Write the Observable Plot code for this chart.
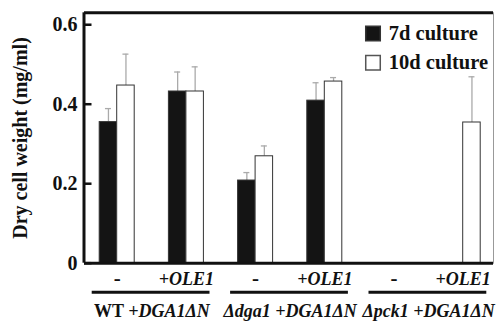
<!DOCTYPE html>
<html><head><meta charset="utf-8">
<script src="https://cdn.jsdelivr.net/npm/d3@7"></script>
<script src="https://cdn.jsdelivr.net/npm/@observablehq/plot@0.6"></script>
<style>body{margin:0;background:#fff}</style>
</head><body><div id="chart"></div>
<script>
const groups = ["WT-", "WT+OLE1", "dga1-", "dga1+OLE1", "pck1-", "pck1+OLE1"];
const treatments = ["-", "+OLE1", "-", "+OLE1", "-", "+OLE1"];
const strainNames = ["WT", "Δdga1", "Δpck1"];
const strainAdd = ["+DGA1ΔN", "+DGA1ΔN", "+DGA1ΔN"];
const strainItalic = [false, true, true];
const series = ["7d culture", "10d culture"];
const mean7 = [0.355, 0.432, 0.208, 0.409, null, null];
const err7 = [0.034, 0.049, 0.020, 0.045, null, null];
const mean10 = [0.447, 0.432, 0.269, 0.457, null, 0.354];
const err10 = [0.079, 0.062, 0.026, 0.010, null, 0.115];
const yTicks = [0, 0.2, 0.4, 0.6];
const yLabel = "Dry cell weight (mg/ml)";

const W = 496, H = 321, ML = 84, MR = 3, MT = 12.3, MB = 58.3;
const X_RANGE = [82.1, 497.3];
const STEP = (X_RANGE[1] - X_RANGE[0]) / groups.length;
const HALF = STEP / 2, BAR = 17.5, CAP = 3;
const LEFT_OFF = ML - X_RANGE[0];

const rows = [];
groups.forEach((g, i) => {
  if (mean7[i] != null) rows.push({group: g, s: 0, mean: mean7[i], err: err7[i]});
  if (mean10[i] != null) rows.push({group: g, s: 1, mean: mean10[i], err: err10[i]});
});
const r7 = rows.filter(d => d.s === 0), r10 = rows.filter(d => d.s === 1);
const pairs = strainNames.map((n, k) => ({first: groups[2*k], second: groups[2*k+1], name: n, add: strainAdd[k], italic: strainItalic[k]}));
const labels = groups.map((g, i) => ({group: g, t: treatments[i]}));
const dashLabels = labels.filter(d => d.t === "-");
const oleLabels = labels.filter(d => d.t !== "-");

const font = {fontFamily: "Liberation Serif", fontWeight: "bold"};
const ERR = {stroke: "#aaa", strokeWidth: 1.3};

const chart = Plot.plot({
  width: W, height: H,
  marginLeft: ML, marginRight: MR, marginTop: MT, marginBottom: MB,
  style: {fontFamily: "Liberation Serif", fontWeight: "bold", background: "#fff", overflow: "visible"},
  x: {domain: groups, range: X_RANGE, padding: 0, round: false, axis: null},
  y: {domain: [0, 0.63]},
  marks: [
    Plot.frame({stroke: "#999", strokeWidth: 1}),
    // error bars
    Plot.ruleX(r7, {x: "group", y1: "mean", y2: d => d.mean + d.err, dx: -BAR/2, ...ERR}),
    Plot.ruleX(r10, {x: "group", y1: "mean", y2: d => d.mean + d.err, dx: BAR/2, ...ERR}),
    Plot.tickY(r7, {x: "group", y: d => d.mean + d.err, insetLeft: HALF - BAR/2 - CAP, insetRight: HALF + BAR/2 - CAP, ...ERR}),
    Plot.tickY(r10, {x: "group", y: d => d.mean + d.err, insetLeft: HALF + BAR/2 - CAP, insetRight: HALF - BAR/2 - CAP, ...ERR}),
    // bars
    Plot.barY(r7, {x: "group", y: "mean", insetLeft: HALF - BAR, insetRight: HALF, fill: "#141414", stroke: "#333", strokeWidth: 1}),
    Plot.barY(r10, {x: "group", y: "mean", insetLeft: HALF, insetRight: HALF - BAR, fill: "#fff", stroke: "#333", strokeWidth: 1}),
    // axes/frame
    Plot.ruleY([0], {strokeWidth: 3, stroke: "#111"}),
    Plot.ruleY([0.63], {strokeWidth: 3, stroke: "#111"}),
    Plot.ruleX([groups[0]], {x: d => d, dx: LEFT_OFF - HALF - 0.5, strokeWidth: 3, stroke: "#111"}),
    Plot.tickY(yTicks, {x: () => groups[0], y: d => d, insetLeft: LEFT_OFF, insetRight: STEP - LEFT_OFF - 7.5, strokeWidth: 2.5, stroke: "#111"}),
    Plot.axisY(yTicks, {tickSize: 0, tickPadding: 7, label: null, tickFormat: d => String(d), fontSize: 20, fill: "#111", ...font}),
    Plot.text([yLabel], {frameAnchor: "left", textAnchor: "middle", rotate: -90, dx: -64, fontSize: 20, fill: "#111", ...font}),
    // legend
    Plot.dot([series[0]], {frameAnchor: "top-right", dx: -120.5, dy: 20.7, symbol: "square", r: 8.2, fill: "#141414", stroke: "#333"}),
    Plot.dot([series[1]], {frameAnchor: "top-right", dx: -120.5, dy: 49.9, symbol: "square", r: 8.2, fill: "#fff", stroke: "#555"}),
    Plot.text([series[0]], {frameAnchor: "top-right", dx: -104.7, dy: 27, textAnchor: "start", lineAnchor: "bottom", fontSize: 20.5, fill: "#111", ...font}),
    Plot.text([series[1]], {frameAnchor: "top-right", dx: -104.7, dy: 56, textAnchor: "start", lineAnchor: "bottom", fontSize: 20.5, fill: "#111", ...font}),
    // category labels
    Plot.text(dashLabels, {x: "group", text: "t", frameAnchor: "bottom", dy: 21.3, lineAnchor: "bottom", fontSize: 21, fill: "#111", ...font}),
    Plot.text(oleLabels, {x: "group", text: "t", frameAnchor: "bottom", dy: 21.3, lineAnchor: "bottom", fontSize: 18, fontStyle: "italic", fill: "#111", ...font}),
    Plot.ruleY(pairs, {x1: "first", x2: "second", y: () => 0, dy: 29, insetLeft: 9.6, insetRight: 11, strokeWidth: 3, stroke: "#111"}),
    Plot.text(pairs, {x: "first", text: d => d.name + " " + d.add, dx: HALF, frameAnchor: "bottom", dy: 53.8, lineAnchor: "bottom", fontSize: 18, fill: "#111", ...font})
  ]
});

// mixed upright/italic strain labels
d3.select(chart).selectAll("text").each(function() {
  const t = this.textContent;
  const p = pairs.find(q => t === q.name + " " + q.add);
  if (p) {
    const el = d3.select(this);
    el.text(null);
    el.append("tspan").attr("font-style", p.italic ? "italic" : "normal").text(p.name + " ");
    el.append("tspan").attr("font-style", "italic").text(p.add);
  }
});
document.getElementById("chart").appendChild(chart);
</script>
</body></html>
